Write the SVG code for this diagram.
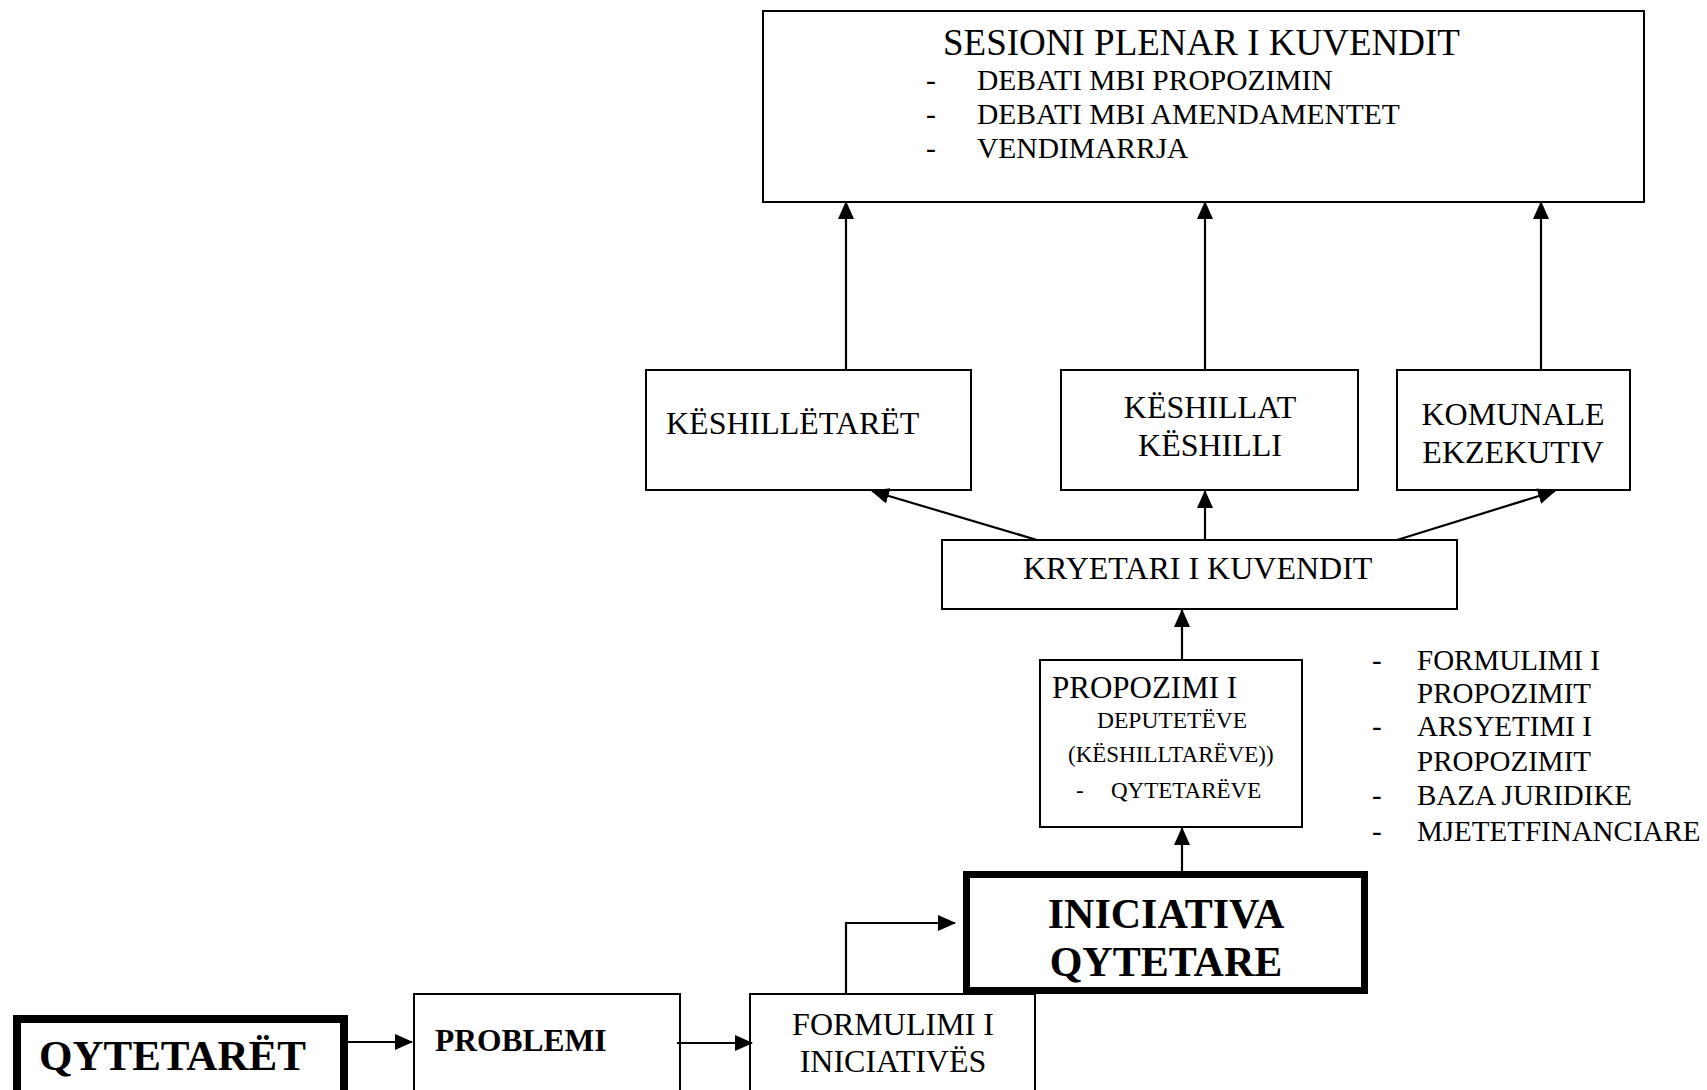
<svg xmlns="http://www.w3.org/2000/svg" width="1707" height="1090" viewBox="0 0 1707 1090">
<style>
  .box { fill: #ffffff; stroke: #000000; stroke-width: 2; }
  .thick { fill: #ffffff; stroke: #000000; }
  .t { font-family: "Liberation Serif", "Times New Roman", serif; fill: #000000; }
  .b { font-family: "Liberation Serif", "Times New Roman", serif; font-weight: bold; fill: #000000; }
  .c { text-anchor: middle; }
  .ln { fill: none; stroke: #000000; stroke-width: 2.2; }
</style>
<defs>
  <marker id="ah" markerUnits="userSpaceOnUse" markerWidth="18" markerHeight="16" viewBox="0 0 18 16" refX="17" refY="8" orient="auto">
    <path d="M0,0 L18,8 L0,16 Z" fill="#000000"/>
  </marker>
</defs>
<rect width="1707" height="1090" fill="#ffffff"/>

<g id="sesioni">
  <rect class="box" x="763" y="11" width="881" height="191"/>
  <text class="t" x="943" y="55" font-size="37">SESIONI PLENAR I KUVENDIT</text>
  <text class="t" x="926" y="90" font-size="29.5">-</text>
  <text class="t" x="977" y="90" font-size="29.5">DEBATI MBI PROPOZIMIN</text>
  <text class="t" x="926" y="124" font-size="29.5">-</text>
  <text class="t" x="977" y="124" font-size="29.5">DEBATI MBI AMENDAMENTET</text>
  <text class="t" x="926" y="158" font-size="29.5">-</text>
  <text class="t" x="977" y="158" font-size="29.5">VENDIMARRJA</text>
</g>

<g id="keshilletaret">
  <rect class="box" x="646" y="370" width="325" height="120"/>
  <text class="t" x="666" y="434" font-size="32">KËSHILLËTARËT</text>
</g>

<g id="keshillat">
  <rect class="box" x="1061" y="370" width="297" height="120"/>
  <text class="t c" x="1210" y="418" font-size="32">KËSHILLAT</text>
  <text class="t c" x="1210" y="456" font-size="32">KËSHILLI</text>
</g>

<g id="komunale">
  <rect class="box" x="1397" y="370" width="233" height="120"/>
  <text class="t c" x="1513" y="425" font-size="32">KOMUNALE</text>
  <text class="t c" x="1513" y="463" font-size="32">EKZEKUTIV</text>
</g>

<g id="kryetari">
  <rect class="box" x="942" y="540" width="515" height="69"/>
  <text class="t" x="1023" y="579" font-size="32">KRYETARI I KUVENDIT</text>
</g>

<g id="propozimi">
  <rect class="box" x="1040" y="660" width="262" height="167"/>
  <text class="t" x="1052" y="698" font-size="31">PROPOZIMI I</text>
  <text class="t" x="1097" y="728" font-size="23.5">DEPUTETËVE</text>
  <text class="t" x="1068" y="762" font-size="23">(KËSHILLTARËVE))</text>
  <text class="t" x="1076" y="798" font-size="23">-</text>
  <text class="t" x="1111" y="798" font-size="23">QYTETARËVE</text>
</g>

<g id="lista">
  <text class="t" x="1372" y="670" font-size="29">-</text>
  <text class="t" x="1417" y="670" font-size="29">FORMULIMI I</text>
  <text class="t" x="1417" y="703" font-size="29">PROPOZIMIT</text>
  <text class="t" x="1372" y="736" font-size="29">-</text>
  <text class="t" x="1417" y="736" font-size="29">ARSYETIMI I</text>
  <text class="t" x="1417" y="771" font-size="29">PROPOZIMIT</text>
  <text class="t" x="1372" y="805" font-size="29">-</text>
  <text class="t" x="1417" y="805" font-size="29">BAZA JURIDIKE</text>
  <text class="t" x="1372" y="841" font-size="29">-</text>
  <text class="t" x="1417" y="841" font-size="29">MJETETFINANCIARE</text>
</g>

<g id="problemi">
  <rect class="box" x="414" y="994" width="266" height="110"/>
  <text class="b" x="435" y="1051" font-size="31.5">PROBLEMI</text>
</g>

<g id="formulimi">
  <rect class="box" x="750" y="994" width="285" height="110"/>
  <text class="t c" x="893" y="1035" font-size="32">FORMULIMI I</text>
  <text class="t c" x="893" y="1072" font-size="32">INICIATIVËS</text>
</g>

<g id="iniciativa">
  <rect class="thick" x="966.5" y="874.5" width="398" height="116" stroke-width="7"/>
  <text class="b c" x="1166" y="928" font-size="42">INICIATIVA</text>
  <text class="b c" x="1166" y="976" font-size="42">QYTETARE</text>
</g>

<g id="qytetaret">
  <rect class="thick" x="17" y="1019" width="327" height="90" stroke-width="8"/>
  <text class="b" x="39" y="1070" font-size="43">QYTETARËT</text>
</g>

<g id="connectors">
  <line class="ln" x1="846" y1="370" x2="846" y2="202" marker-end="url(#ah)"/>
  <line class="ln" x1="1205" y1="370" x2="1205" y2="202" marker-end="url(#ah)"/>
  <line class="ln" x1="1541" y1="370" x2="1541" y2="202" marker-end="url(#ah)"/>
  <line class="ln" x1="1037" y1="540" x2="872" y2="491" marker-end="url(#ah)"/>
  <line class="ln" x1="1205" y1="540" x2="1205" y2="491" marker-end="url(#ah)"/>
  <line class="ln" x1="1397" y1="540" x2="1555" y2="491" marker-end="url(#ah)"/>
  <line class="ln" x1="1182" y1="660" x2="1182" y2="610" marker-end="url(#ah)"/>
  <line class="ln" x1="1182" y1="871" x2="1182" y2="828" marker-end="url(#ah)"/>
  <polyline class="ln" points="846,994 846,923 955,923" marker-end="url(#ah)"/>
  <line class="ln" x1="348" y1="1042" x2="412" y2="1042" marker-end="url(#ah)"/>
  <line class="ln" x1="677" y1="1043" x2="752" y2="1043" marker-end="url(#ah)"/>
</g>
</svg>
